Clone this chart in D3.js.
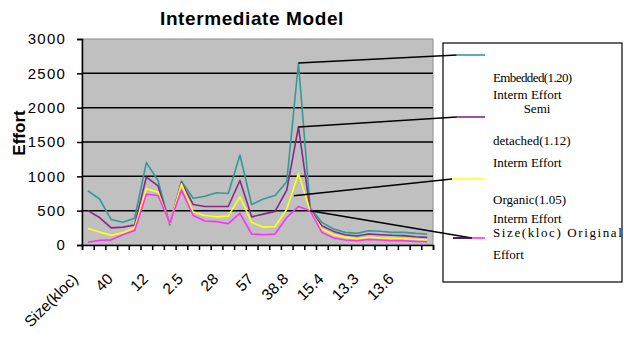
<!DOCTYPE html>
<html>
<head>
<meta charset="utf-8">
<script src="https://cdn.jsdelivr.net/npm/d3@7"></script>
<style>
  html, body { margin: 0; padding: 0; background: #fff; }
  svg { display: block; }
</style>
</head>
<body>
<svg id="chart" width="624" height="345"></svg>
<script>
// Category tick labels (every third category is labelled on the axis)
const tickLabels = ["Size(kloc)", "40", "12", "2.5", "28", "57", "38.8", "15.4", "13.3", "13.6"];
const labelEvery = 3;

// Effort per project, one array per series
const embedded = [790, 670, 370, 330, 390, 1200, 940, 290, 930, 680, 710, 760, 750, 1310, 590, 670, 720, 920, 2650, 540, 330, 233, 184, 169, 208, 201, 184, 184, 169, 160];
const semiDetached = [500, 400, 250, 260, 290, 990, 860, 300, 910, 590, 560, 560, 560, 940, 410, 450, 490, 800, 1720, 510, 281, 198, 150, 131, 160, 150, 141, 136, 121, 111];
const organic = [240, 190, 140, 180, 250, 820, 770, 310, 890, 480, 430, 410, 420, 700, 330, 260, 270, 520, 1040, 500, 233, 150, 111, 92, 111, 102, 97, 92, 82, 73];
const original = [40, 70, 75, 150, 210, 740, 720, 320, 800, 430, 350, 340, 310, 460, 160, 150, 160, 400, 560, 500, 184, 102, 73, 63, 82, 73, 63, 63, 53, 48];

const seriesNames = [
  ["Embedded(1.20)", "Interm Effort"],
  ["Semi", "detached(1.12)", "Interm Effort"],
  ["Organic(1.05)", "Interm Effort"],
  ["Size(kloc) Original", "Effort"]
];
const yTicks = [0, 500, 1000, 1500, 2000, 2500, 3000];

const seriesValues = [embedded, semiDetached, organic, original];
const colors = ["#2f9c98", "#842a84", "#ffff1a", "#ff2eff"];

const svg = d3.select("#chart");
const plot = { left: 82, right: 433, top: 39, bottom: 245 };
const n = embedded.length;

const x = d3.scaleBand().domain(d3.range(n)).range([plot.left, plot.right]).padding(0);
const xEdge = d3.scaleLinear().domain([0, n]).range([plot.left, plot.right]);
const y = d3.scaleLinear().domain([0, 3000]).range([plot.bottom, plot.top]);
const px = i => x(i) + x.bandwidth() / 2;

// Title
svg.append("text")
  .attr("x", 252).attr("y", 25)
  .attr("text-anchor", "middle")
  .attr("font-family", "Liberation Sans, Arial, sans-serif")
  .attr("font-weight", "bold").attr("font-size", 19)
  .attr("letter-spacing", 0.6)
  .text("Intermediate Model");

// Plot background
svg.append("rect")
  .attr("x", plot.left).attr("y", plot.top)
  .attr("width", plot.right - plot.left).attr("height", plot.bottom - plot.top)
  .attr("fill", "#c0c0c0").attr("stroke", "#8c8c8c").attr("stroke-width", 1);

// Horizontal gridlines
svg.append("g").selectAll("line")
  .data(yTicks.filter(d => d > 0 && d < 3000))
  .join("line")
  .attr("x1", plot.left).attr("x2", plot.right)
  .attr("y1", d => y(d)).attr("y2", d => y(d))
  .attr("stroke", "#000").attr("stroke-width", 1.5);

// Y axis
const yAxis = svg.append("g")
  .attr("transform", `translate(${plot.left},0)`)
  .call(d3.axisLeft(y).tickValues(yTicks).tickSize(5).tickPadding(11).tickFormat(d3.format("d")));
yAxis.select(".domain").attr("stroke", "#000").attr("stroke-width", 1.5);
yAxis.selectAll(".tick line").attr("stroke", "#000").attr("stroke-width", 1.5);
yAxis.selectAll(".tick text")
  .attr("font-family", "Liberation Sans, Arial, sans-serif")
  .attr("font-size", 15).attr("letter-spacing", 1.2).attr("fill", "#000");

// X axis: ticks on category boundaries
const xAxis = svg.append("g")
  .attr("transform", `translate(0,${plot.bottom})`)
  .call(d3.axisBottom(xEdge).tickValues(d3.range(n + 1)).tickSize(5).tickFormat(""));
xAxis.select(".domain").attr("stroke", "#000").attr("stroke-width", 1.5);
xAxis.selectAll(".tick line").attr("stroke", "#000").attr("stroke-width", 1.5);

// Rotated category labels
svg.append("g").selectAll("text")
  .data(tickLabels)
  .join("text")
  .attr("transform", (d, k) => `translate(${px(k * labelEvery) - 9},${plot.bottom + 35}) rotate(-45)`)
  .attr("text-anchor", "end")
  .attr("font-family", "Liberation Sans, Arial, sans-serif")
  .attr("font-size", 15.5)
  .text(d => d);

// Y axis title
svg.append("text")
  .attr("transform", "translate(25,133) rotate(-90)")
  .attr("text-anchor", "middle")
  .attr("font-family", "Liberation Sans, Arial, sans-serif")
  .attr("font-weight", "bold").attr("font-size", 17)
  .text("Effort");

// Series lines
const line = d3.line().x((d, i) => px(i)).y(d => y(d));
svg.append("g").selectAll("path")
  .data(seriesValues)
  .join("path")
  .attr("d", line)
  .attr("fill", "none")
  .attr("stroke", (d, i) => colors[i])
  .attr("stroke-width", 1.6)
  .attr("stroke-linejoin", "round");

// Legend box
const legend = { x: 443, y: 43, w: 179, h: 239 };
svg.append("rect")
  .attr("x", legend.x).attr("y", legend.y)
  .attr("width", legend.w).attr("height", legend.h)
  .attr("fill", "#fff").attr("stroke", "#000").attr("stroke-width", 1.2);

// Legend keys and labels
const keyY = [55, 117, 179, 238];
const keyX = [456, 456, 452, 453];
const textLines = [
  [{ t: seriesNames[0][0], y: 82, ls: -0.6 }, { t: seriesNames[0][1], y: 99 }],
  [{ t: seriesNames[1][0], y: 113, mid: true }, { t: seriesNames[1][1], y: 145 }, { t: seriesNames[1][2], y: 167 }],
  [{ t: seriesNames[2][0], y: 204 }, { t: seriesNames[2][1], y: 223 }],
  [{ t: seriesNames[3][0], y: 237, ls: 1.6 }, { t: seriesNames[3][1], y: 259 }]
];

// Leader lines from each series to its legend key
const lerp = (a, b, f) => a + (b - a) * f;
const leaders = [
  { sx: px(18), sy: y(embedded[18]), ex: 457, ey: keyY[0] },
  { sx: px(18), sy: y(semiDetached[18]), ex: 457, ey: keyY[1] },
  { sx: lerp(px(17), px(18), 0.6), sy: lerp(y(organic[17]), y(organic[18]), 0.6) + 8, ex: 452, ey: keyY[2] },
  { sx: px(19), sy: y(original[19]), ex: 472, ey: keyY[3] }
];
svg.append("g").selectAll("line")
  .data(leaders)
  .join("line")
  .attr("x1", d => d.sx).attr("y1", d => d.sy)
  .attr("x2", d => d.ex).attr("y2", d => d.ey)
  .attr("stroke", "#000").attr("stroke-width", 1.5);

const keys = svg.append("g");
seriesValues.forEach((s, i) => {
  keys.append("line")
    .attr("x1", keyX[i]).attr("x2", 485)
    .attr("y1", keyY[i]).attr("y2", keyY[i])
    .attr("stroke", colors[i]).attr("stroke-width", 1.6);
});
keys.append("line")
  .attr("x1", 453).attr("x2", 472).attr("y1", keyY[3]).attr("y2", keyY[3])
  .attr("stroke", "#000").attr("stroke-width", 1.3);

const legText = svg.append("g")
  .attr("font-family", "Liberation Serif, Times New Roman, serif")
  .attr("font-size", 13).attr("fill", "#000");
textLines.flat().forEach(d => {
  legText.append("text")
    .attr("x", d.mid ? 537 : 493).attr("y", d.y)
    .attr("text-anchor", d.mid ? "middle" : "start")
    .attr("letter-spacing", d.ls || 0)
    .text(d.t);
});
</script>
</body>
</html>
